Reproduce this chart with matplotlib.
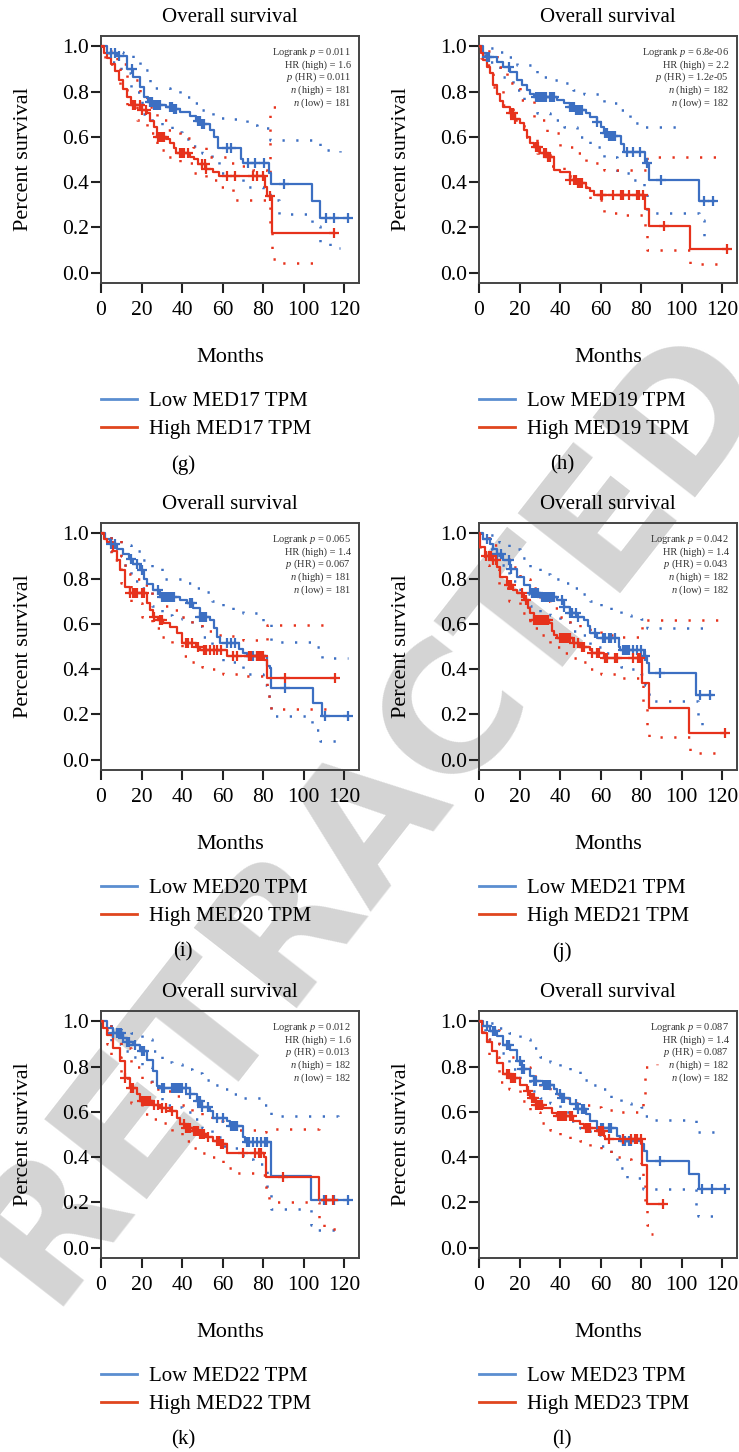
import numpy as np
import matplotlib
matplotlib.use('Agg')
import matplotlib.pyplot as plt
from matplotlib.lines import Line2D

plt.rcParams['font.family'] = ['Liberation Serif', 'DejaVu Serif']
plt.rcParams['mathtext.fontset'] = 'custom'
plt.rcParams['mathtext.rm'] = 'Liberation Serif'
plt.rcParams['mathtext.it'] = 'Liberation Serif:italic'

BLUE = '#3c6fc2'
RED = '#e6321c'

# ---------------- MED17 ----------------
med17_low = [(0, 1.0), (3, 0.968), (8, 0.955), (13, 0.9), (16, 0.865), (19, 0.82), (21, 0.777), (23, 0.755),
             (26, 0.74), (32, 0.733), (36, 0.725), (39, 0.71), (44, 0.69), (47, 0.67), (50, 0.655), (54, 0.63),
             (56, 0.6), (57.5, 0.55), (69, 0.5), (70, 0.486), (83, 0.44), (84, 0.39), (104, 0.315), (108, 0.24),
             (122, 0.24)]
med17_low_cens = [5, 7, 9, 15.5, 24, 25, 26, 27, 28, 29, 34, 35, 36, 37, 48, 49, 50, 51, 62, 64, 72.5, 76, 80.5,
                  90.5, 111, 115, 122]
med17_high = [(0, 1.0), (1.5, 0.97), (3, 0.95), (5, 0.92), (7, 0.89), (9, 0.85), (11, 0.81), (13, 0.775),
              (15, 0.74), (20, 0.72), (22.5, 0.704), (24, 0.67), (26, 0.645), (27.5, 0.6), (32, 0.59),
              (34, 0.572), (36, 0.55), (37, 0.528), (44, 0.51), (46, 0.5), (48, 0.48), (52, 0.46), (55.5, 0.447),
              (58, 0.425), (81, 0.38), (81.7, 0.34), (84.3, 0.176), (115, 0.176)]
med17_high_cens = [16, 17, 19, 20, 22, 28, 29, 30, 31, 39, 40, 41, 43, 50, 51.5, 52, 62, 66, 75, 77, 80, 83.5, 115]
med17_low_up = [(0, 1), (4, 0.975), (11, 0.968), (16, 0.93), (19, 0.894), (24, 0.814), (34, 0.806), (39, 0.777),
                (44, 0.748), (49, 0.718), (55.5, 0.682), (65, 0.677), (72, 0.652), (77, 0.638), (83.5, 0.587),
                (108, 0.543), (118, 0.535)]
med17_low_dn = [(0, 1.0), (4, 0.93), (10, 0.88), (15, 0.8), (20, 0.7), (25, 0.67), (30, 0.65), (35, 0.62),
                (40, 0.59), (45, 0.56), (50, 0.53), (55, 0.5), (58, 0.44), (65, 0.43), (70, 0.38), (80, 0.36),
                (83.5, 0.32), (88, 0.26), (104, 0.205), (108, 0.13), (113, 0.11), (118, 0.11)]
med17_high_up = [(0, 1), (3, 0.98), (8, 0.92), (12.7, 0.85), (19, 0.777), (22.5, 0.733), (27.5, 0.675),
                 (33, 0.63), (39, 0.594), (45.6, 0.557), (52, 0.513), (62, 0.484), (68.6, 0.47), (75, 0.455),
                 (81.8, 0.425), (83.5, 0.733), (90, 0.733)]
med17_high_dn = [(0, 1), (2, 0.95), (4.4, 0.92), (9.4, 0.82), (13, 0.74), (17.6, 0.675), (22.5, 0.616),
                 (27.5, 0.543), (32.4, 0.513), (39, 0.484), (45.6, 0.44), (52, 0.41), (58.8, 0.38), (65, 0.32),
                 (82.5, 0.32), (83.5, 0.176), (84.3, 0.06), (86.7, 0.045), (110, 0.045)]
med17_stats = ['0.011', '1.6', '0.011', '181', '181']

# ---------------- MED19 ----------------
med19_low = [(0, 1), (2, 0.97), (3.8, 0.953), (8.7, 0.93), (12, 0.91), (15.3, 0.887), (18.6, 0.85), (21, 0.83),
             (23.6, 0.806), (25, 0.79), (26.9, 0.777), (38.4, 0.762), (41.7, 0.748), (45, 0.733), (48, 0.72),
             (53, 0.705), (55, 0.689), (58, 0.665), (60, 0.645), (61.5, 0.616), (64, 0.605), (70, 0.57),
             (71.4, 0.535), (82, 0.484), (83.7, 0.41), (108.5, 0.315), (116, 0.315)]
med19_low_cens = [4, 5, 15, 28, 29, 30, 31, 32, 33, 35, 36, 37, 45, 46, 47, 48, 49, 50, 51, 58, 62, 63, 64, 65, 66,
                  67, 73, 76, 79.5, 83, 90, 111, 115.5]
med19_high = [(0, 1), (1, 0.97), (2.1, 0.94), (4, 0.91), (5.4, 0.88), (7, 0.83), (8.7, 0.79), (10.5, 0.76),
              (12, 0.733), (15.3, 0.704), (18, 0.68), (20.3, 0.66), (22, 0.63), (23.6, 0.6), (25, 0.575),
              (26.9, 0.557), (30.2, 0.528), (33.5, 0.513), (36.8, 0.455), (40, 0.447), (45, 0.41), (48.3, 0.396),
              (53, 0.375), (54.9, 0.36), (56.5, 0.345), (82, 0.28), (83.7, 0.205), (104.3, 0.105), (122.5, 0.105)]
med19_high_cens = [16, 17, 18, 28, 29, 32, 33, 34, 35, 45, 47, 48, 49, 50, 51, 60, 60.5, 66, 70, 71, 74, 78, 79,
                   81, 91.5, 122.5]
med19_low_up = [(0, 1), (2, 0.99), (7, 0.975), (12, 0.953), (18.6, 0.916), (28.5, 0.865), (35, 0.85),
                (40, 0.836), (46.6, 0.806), (51.6, 0.79), (61.5, 0.748), (68, 0.718), (74.7, 0.66),
                (79.6, 0.645), (100, 0.645)]
med19_low_dn = [(0, 1), (2, 0.96), (4, 0.93), (10.4, 0.865), (17, 0.806), (22, 0.762), (28.5, 0.704),
                (35, 0.674), (41.7, 0.645), (48.3, 0.6), (55, 0.557), (61.5, 0.513), (68, 0.44), (76, 0.41),
                (81.2, 0.367), (83, 0.264), (106, 0.264), (108.5, 0.235), (111, 0.154), (112, 0.154)]
med19_high_up = [(0, 1), (2, 0.98), (8.7, 0.91), (13.7, 0.836), (20.3, 0.762), (27, 0.674), (33.5, 0.616),
                 (40, 0.557), (46.6, 0.528), (53, 0.484), (61.5, 0.455), (82, 0.455), (83, 0.513), (122, 0.513)]
med19_high_dn = [(0, 1), (1, 0.95), (3, 0.916), (7, 0.82), (12, 0.74), (17, 0.674), (22, 0.6), (28.5, 0.528),
                 (35, 0.47), (41.7, 0.425), (48.3, 0.38), (55, 0.32), (61.5, 0.264), (68, 0.257), (82, 0.19),
                 (83, 0.1), (104, 0.037), (121, 0.03)]
med19_stats = ['6.8$e$-06', '2.2', '1.2$e$-05', '182', '182']

# ---------------- MED20 ----------------
med20_low = [(0, 1), (2, 0.975), (4.4, 0.953), (8, 0.93), (11, 0.91), (14, 0.885), (16, 0.865), (19.2, 0.836),
             (21, 0.8), (22.5, 0.778), (25.8, 0.749), (29, 0.719), (39, 0.705), (42.2, 0.69), (45.5, 0.668),
             (48.8, 0.632), (53.8, 0.617), (56, 0.58), (57, 0.544), (58.7, 0.515), (68, 0.49), (70, 0.47),
             (71.8, 0.456), (81.7, 0.412), (83.3, 0.405), (84, 0.317), (104.7, 0.25), (108.8, 0.193),
             (122, 0.193)]
med20_low_cens = [5, 7, 15, 18, 20, 28, 30, 31, 32, 33, 34, 35, 36, 44, 45, 49, 50, 51, 52, 62, 64, 66, 73, 75,
                  77, 79, 91, 110.5, 122]
med20_high = [(0, 1), (1.5, 0.975), (2.8, 0.96), (6, 0.92), (8, 0.88), (9.4, 0.836), (11.8, 0.763),
              (14.3, 0.734), (22.5, 0.69), (24, 0.66), (25.8, 0.632), (28, 0.615), (30.7, 0.602), (34, 0.588),
              (37.3, 0.56), (39.8, 0.515), (47, 0.5), (48.8, 0.485), (62, 0.456), (80.5, 0.44), (81.7, 0.36),
              (115.4, 0.36)]
med20_high_cens = [14.5, 16, 17, 18, 20, 21, 26, 29, 30, 42, 43, 45, 48, 51, 52, 54, 56, 57, 59, 65, 67, 73, 74,
                   77, 78, 79, 80, 91, 115.5]
med20_low_up = [(0, 1), (2, 0.99), (5, 0.98), (10, 0.95), (15, 0.92), (20, 0.88), (25, 0.85), (30, 0.8),
                (35, 0.8), (40, 0.78), (45, 0.76), (50, 0.74), (55, 0.7), (60, 0.68), (65, 0.66), (70, 0.65),
                (80, 0.6), (84, 0.52), (104.7, 0.5), (108.8, 0.45), (122, 0.45)]
med20_low_dn = [(0, 1), (5, 0.92), (10, 0.86), (15, 0.79), (20, 0.76), (25, 0.68), (30, 0.64), (35, 0.63),
                (40, 0.62), (45, 0.59), (50, 0.54), (55, 0.5), (58, 0.46), (60, 0.43), (70, 0.38), (80, 0.33),
                (82, 0.28), (84, 0.193), (104, 0.13), (108, 0.083), (121, 0.083)]
med20_high_up = [(0, 1), (5, 0.97), (10, 0.9), (12, 0.82), (15, 0.8), (20, 0.77), (25, 0.72), (30, 0.68),
                 (35, 0.66), (40, 0.63), (45, 0.6), (50, 0.57), (55, 0.55), (62, 0.545), (70, 0.53), (80, 0.525),
                 (81.7, 0.595), (110, 0.595)]
med20_high_dn = [(0, 1), (3, 0.92), (5, 0.88), (10, 0.78), (15, 0.69), (20, 0.63), (25, 0.58), (30, 0.54),
                 (35, 0.51), (40, 0.46), (45, 0.43), (50, 0.41), (55, 0.4), (60, 0.38), (70, 0.37), (80, 0.35),
                 (81.7, 0.29), (83, 0.25), (84, 0.222), (115, 0.222)]
med20_stats = ['0.065', '1.4', '0.067', '181', '181']

# ---------------- MED21 ----------------
med21_low = [(0, 1), (2.1, 0.975), (5.4, 0.953), (7, 0.93), (8.7, 0.91), (12, 0.88), (15.3, 0.844),
             (18.6, 0.807), (22, 0.77), (25.2, 0.734), (30, 0.719), (38.4, 0.705), (41.7, 0.675), (45, 0.646),
             (48.3, 0.632), (51.6, 0.617), (54, 0.59), (55, 0.56), (58.2, 0.538), (68.9, 0.5), (69.7, 0.485),
             (81.3, 0.456), (83, 0.427), (83.7, 0.383), (107.3, 0.288), (115, 0.288)]
med21_low_cens = [4, 9, 11, 15, 16, 26, 27, 28, 29, 31, 32, 33, 34, 35, 36, 37, 41, 42, 45, 46, 48, 49, 57, 61,
                  62, 64, 65, 67, 71, 72, 73, 74, 76, 78, 80, 82, 89.5, 109, 114]
med21_high = [(0, 1), (0.5, 0.94), (3, 0.9), (6.3, 0.88), (8.7, 0.85), (10.4, 0.807), (13.7, 0.77), (17, 0.75),
              (18.6, 0.734), (22, 0.705), (24, 0.67), (25.2, 0.646), (27, 0.617), (34.3, 0.602), (36, 0.57),
              (36.8, 0.55), (38.4, 0.536), (46.6, 0.515), (50, 0.5), (55, 0.485), (55.7, 0.47), (61.5, 0.449),
              (80.4, 0.339), (83.7, 0.23), (103.5, 0.12), (121.6, 0.12)]
med21_high_cens = [3.5, 5, 6, 7, 8.5, 15, 16, 21, 23, 27, 28, 29, 30, 31, 32, 33, 34, 40, 41, 42, 43, 44, 45, 47,
                   49, 51, 52, 56, 58, 59, 62, 63, 67, 68, 76, 78.5, 79.5, 121.6]
med21_low_up = [(0, 1), (5, 0.99), (10, 0.96), (15, 0.93), (20, 0.89), (25, 0.85), (30, 0.82), (35, 0.8),
                (40, 0.78), (45, 0.76), (50, 0.73), (55, 0.7), (60, 0.68), (65, 0.66), (70, 0.64), (75, 0.63),
                (80, 0.62), (83, 0.58), (112, 0.58)]
med21_low_dn = [(0, 1), (5, 0.93), (10, 0.86), (15, 0.79), (20, 0.73), (25, 0.68), (30, 0.65), (35, 0.64),
                (40, 0.61), (45, 0.57), (50, 0.55), (55, 0.5), (60, 0.47), (65, 0.45), (70, 0.41), (75, 0.4),
                (80, 0.38), (82, 0.33), (83, 0.3), (84, 0.26), (107, 0.26), (108, 0.17), (110, 0.13),
                (111, 0.13)]
med21_high_up = [(0, 1), (3, 0.99), (5, 0.95), (10, 0.91), (15, 0.85), (20, 0.8), (25, 0.76), (30, 0.7),
                 (35, 0.67), (40, 0.63), (45, 0.6), (50, 0.58), (55, 0.57), (60, 0.55), (70, 0.54),
                 (80.4, 0.617), (118, 0.617)]
med21_high_dn = [(0, 1), (0.5, 0.9), (3, 0.86), (5, 0.84), (10, 0.76), (15, 0.7), (20, 0.65), (25, 0.58),
                 (30, 0.55), (35, 0.5), (40, 0.47), (45, 0.45), (50, 0.43), (55, 0.4), (60, 0.38), (70, 0.36),
                 (80, 0.35), (81, 0.25), (83, 0.15), (84, 0.1), (103.5, 0.1), (104, 0.03), (120, 0.03)]
med21_stats = ['0.042', '1.4', '0.043', '182', '182']

# ---------------- MED22 ----------------
med22_low = [(0, 1), (2.8, 0.97), (6, 0.95), (11, 0.927), (13, 0.91), (16, 0.897), (19.2, 0.868), (22.5, 0.83),
             (25.8, 0.78), (27.5, 0.714), (29, 0.707), (43.9, 0.677), (47.2, 0.648), (50, 0.62), (53.8, 0.604),
             (55.4, 0.575), (62, 0.56), (63.6, 0.538), (70.2, 0.487), (71, 0.465), (83.7, 0.318),
             (103.6, 0.211), (122, 0.211)]
med22_low_cens = [6, 8, 9, 10, 11, 13, 14, 17, 20, 21, 30, 31, 35, 36, 37, 38, 39, 40, 42, 44, 48, 49, 50, 53,
                  57, 60, 64, 65, 66, 67, 72, 73, 75, 77, 79, 81, 82, 110, 115, 122]
med22_high = [(0, 1), (1, 0.97), (2.8, 0.94), (6, 0.883), (9.4, 0.824), (11.8, 0.75), (14.3, 0.707),
              (17.6, 0.677), (19.2, 0.648), (25, 0.63), (29, 0.619), (34, 0.604), (37.3, 0.575), (39, 0.545),
              (42, 0.53), (45.5, 0.516), (48.8, 0.501), (52, 0.487), (55.4, 0.472), (58.7, 0.457), (62, 0.42),
              (80.5, 0.4), (81.4, 0.314), (107.7, 0.213), (114.6, 0.213)]
med22_high_cens = [12, 15, 16, 20, 21, 22, 23, 24, 26, 28, 30, 32, 35, 41, 42, 43, 44, 46, 47, 48, 49, 50, 51, 53,
                   57, 58, 59, 60, 70, 76, 78, 79, 90, 111, 114.6]
med22_low_up = [(0, 1), (3, 0.99), (5, 0.98), (10, 0.96), (15, 0.95), (20, 0.92), (25, 0.87), (30, 0.82),
                (35, 0.81), (40, 0.79), (45, 0.77), (50, 0.74), (55, 0.72), (60, 0.7), (65, 0.68), (70, 0.66),
                (80, 0.63), (83.7, 0.58), (117, 0.575)]
med22_low_dn = [(0, 1), (5, 0.9), (10, 0.87), (15, 0.84), (20, 0.8), (25, 0.72), (30, 0.63), (35, 0.62),
                (40, 0.6), (45, 0.57), (50, 0.53), (55, 0.49), (60, 0.45), (65, 0.44), (70, 0.39), (75, 0.37),
                (80, 0.36), (82, 0.25), (84, 0.17), (103.6, 0.1), (105, 0.08), (120, 0.08)]
med22_high_up = [(0, 1), (3, 0.98), (5, 0.95), (10, 0.88), (15, 0.8), (20, 0.73), (25, 0.7), (30, 0.69),
                 (35, 0.67), (40, 0.63), (45, 0.6), (50, 0.58), (55, 0.56), (60, 0.54), (65, 0.52), (80, 0.51),
                 (81.4, 0.524), (107.7, 0.54), (110, 0.54)]
med22_high_dn = [(0, 1), (3, 0.9), (5, 0.84), (10, 0.75), (15, 0.64), (20, 0.59), (25, 0.57), (30, 0.55),
                 (35, 0.51), (40, 0.47), (45, 0.44), (50, 0.42), (55, 0.4), (60, 0.35), (65, 0.33), (80, 0.32),
                 (81.4, 0.25), (83, 0.2), (107.7, 0.13), (110, 0.085), (120, 0.085)]
med22_stats = ['0.012', '1.6', '0.013', '182', '182']

# ---------------- MED23 ----------------
med23_low = [(0, 1), (2.1, 0.978), (5.4, 0.956), (8.7, 0.934), (12, 0.897), (15.3, 0.875), (18.6, 0.824),
             (21, 0.787), (25.2, 0.758), (27, 0.736), (31.8, 0.72), (36.8, 0.7), (38.4, 0.677), (41, 0.663),
             (45, 0.633), (48.3, 0.611), (53, 0.59), (55, 0.56), (58.2, 0.53), (68, 0.494), (69.7, 0.472),
             (80, 0.457), (81.3, 0.428), (83, 0.384), (103.5, 0.326), (108.5, 0.26), (121.6, 0.26)]
med23_low_cens = [4, 7, 8, 14, 15, 20, 21, 22, 27, 28, 32, 33, 34, 35, 40, 41, 42, 48, 49, 51, 52, 60, 61, 64,
                  65, 71, 72, 74, 75, 89.5, 110, 115, 121.6]
med23_high = [(0, 1), (1.3, 0.95), (3.8, 0.91), (6.3, 0.868), (8.7, 0.816), (12, 0.765), (15.3, 0.75),
              (20.3, 0.72), (23.6, 0.69), (25.2, 0.66), (28, 0.63), (31.8, 0.619), (35.9, 0.597), (38.4, 0.583),
              (46.6, 0.56), (50, 0.545), (51.6, 0.53), (58.2, 0.516), (61.5, 0.494), (62.3, 0.48),
              (80.4, 0.367), (83, 0.194), (91, 0.194)]
med23_high_cens = [14, 15, 16, 17, 18, 24, 26, 27, 28, 29, 30, 31, 39, 40, 41, 42, 43, 45, 46, 53, 54, 55, 59,
                   60, 61, 64, 71, 75, 77, 78, 80, 91]
med23_low_up = [(0, 1), (5, 0.99), (10, 0.97), (15, 0.95), (20, 0.92), (25, 0.88), (30, 0.84), (35, 0.82),
                (40, 0.8), (45, 0.78), (50, 0.74), (55, 0.72), (60, 0.7), (65, 0.66), (70, 0.64), (75, 0.63),
                (80, 0.62), (82, 0.58), (84, 0.565), (105, 0.565), (107, 0.51), (120, 0.51)]
med23_low_dn = [(0, 1), (3, 0.95), (5, 0.92), (10, 0.86), (15, 0.79), (20, 0.74), (25, 0.69), (30, 0.66),
                (35, 0.64), (40, 0.6), (45, 0.56), (50, 0.53), (55, 0.5), (60, 0.45), (65, 0.42), (68, 0.352),
                (73, 0.308), (81, 0.26), (104, 0.26), (107, 0.19), (108, 0.14), (120, 0.14)]
med23_high_up = [(0, 1), (2, 0.99), (5, 0.96), (10, 0.9), (15, 0.84), (20, 0.8), (25, 0.76), (30, 0.71),
                 (35, 0.68), (40, 0.66), (45, 0.64), (50, 0.63), (55, 0.62), (60, 0.61), (70, 0.6), (80, 0.6),
                 (81, 0.65), (82, 0.8), (88, 0.81)]
med23_high_dn = [(0, 1), (2, 0.92), (5, 0.84), (10, 0.73), (15, 0.7), (20, 0.65), (25, 0.6), (30, 0.55),
                 (35, 0.52), (40, 0.5), (45, 0.48), (50, 0.47), (55, 0.45), (60, 0.43), (65, 0.4), (70, 0.39),
                 (75, 0.38), (80, 0.37), (81, 0.3), (82, 0.2), (83, 0.1), (84, 0.06), (86, 0.06)]
med23_stats = ['0.087', '1.4', '0.087', '182', '182']

genes = ['MED17', 'MED19', 'MED20', 'MED21', 'MED22', 'MED23']
panel_tags = ['(g)', '(h)', '(i)', '(j)', '(k)', '(l)']
panels = [
    (med17_low, med17_low_cens, med17_low_up, med17_low_dn, med17_high, med17_high_cens, med17_high_up, med17_high_dn, med17_stats),
    (med19_low, med19_low_cens, med19_low_up, med19_low_dn, med19_high, med19_high_cens, med19_high_up, med19_high_dn, med19_stats),
    (med20_low, med20_low_cens, med20_low_up, med20_low_dn, med20_high, med20_high_cens, med20_high_up, med20_high_dn, med20_stats),
    (med21_low, med21_low_cens, med21_low_up, med21_low_dn, med21_high, med21_high_cens, med21_high_up, med21_high_dn, med21_stats),
    (med22_low, med22_low_cens, med22_low_up, med22_low_dn, med22_high, med22_high_cens, med22_high_up, med22_high_dn, med22_stats),
    (med23_low, med23_low_cens, med23_low_up, med23_low_dn, med23_high, med23_high_cens, med23_high_up, med23_high_dn, med23_stats),
]

W, H = 739, 1452
fig = plt.figure(figsize=(W / 100, H / 100), dpi=100)

# big grey stamp behind the panels
fig.text(0.5, 0.44, 'RETRACTED', rotation=52, fontsize=128, fontweight='bold', family='DejaVu Sans',
         color='#d4d4d4', ha='center', va='center', zorder=-5)

col_left = [101, 479]
tag_x = [183, 562]
row_top = [36, 523, 1011]
ax_w, ax_h = 258, 247


def draw_km(ax, curve, cens, up, dn, color):
    t = np.array([p[0] for p in curve])
    s = np.array([p[1] for p in curve])
    ax.step(t, s, where='post', color=color, lw=1.6, zorder=4)
    idx = np.searchsorted(t, cens, side='right') - 1
    ax.plot(cens, s[idx], ls='none', marker='+', ms=7, mew=1.6, color=color, zorder=5)
    for band in (up, dn):
        bt = [p[0] for p in band]
        bs = [p[1] for p in band]
        ax.step(bt, bs, where='post', color=color, lw=1.8, ls=(0, (0.9, 4.6)), zorder=3)


for k, (gene, tag, pdata) in enumerate(zip(genes, panel_tags, panels)):
    r, c = divmod(k, 2)
    x0 = col_left[c]
    y0 = row_top[r]
    ax = fig.add_axes([x0 / W, 1 - (y0 + ax_h) / H, ax_w / W, ax_h / H])
    ax.patch.set_alpha(0)
    low, low_c, low_up, low_dn, high, high_c, high_up, high_dn, stats = pdata

    draw_km(ax, low, low_c, low_up, low_dn, BLUE)
    draw_km(ax, high, high_c, high_up, high_dn, RED)

    ax.set_xlim(0, 127.3)
    ax.set_ylim(-0.045, 1.045)
    ax.set_xticks(range(0, 121, 20))
    ax.set_yticks([0, 0.2, 0.4, 0.6, 0.8, 1.0])
    ax.set_yticklabels(['0.0', '0.2', '0.4', '0.6', '0.8', '1.0'])
    ax.tick_params(direction='out', length=7, width=1.5, labelsize=15.5, color='#222222')
    ax.tick_params(axis='x', pad=6)
    ax.tick_params(axis='y', pad=1.5)
    for sp in ax.spines.values():
        sp.set_linewidth(1.4)
        sp.set_color('#444444')

    ax.set_title('Overall survival', fontsize=15, pad=10)
    ax.set_ylabel('Percent survival', fontsize=16, labelpad=21)
    ax.set_xlabel('Months', fontsize=16, labelpad=20)

    lines = ['Logrank $p$ = ' + stats[0], 'HR (high) = ' + stats[1], '$p$ (HR) = ' + stats[2],
             '$n$ (high) = ' + stats[3], '$n$ (low) = ' + stats[4]]
    for j, txt in enumerate(lines):
        ax.text(0.969, 0.935 - j * 0.0516, txt, transform=ax.transAxes, ha='right', va='center',
                fontsize=7.5, color='#333333')

    handles = [Line2D([], [], color='#5b8ed0', lw=2), Line2D([], [], color='#e0461e', lw=2)]
    ax.legend(handles, ['Low %s TPM' % gene, 'High %s TPM' % gene], loc='upper left',
              bbox_to_anchor=(0, -0.44), frameon=False, fontsize=15, borderpad=0, borderaxespad=0,
              handlelength=1.75, handletextpad=0.55, labelspacing=0.4)

    fig.text(tag_x[c] / W, 1 - (y0 + 429) / H, tag, ha='center', va='center', fontsize=15)

fig.savefig('out.png', dpi=100)
